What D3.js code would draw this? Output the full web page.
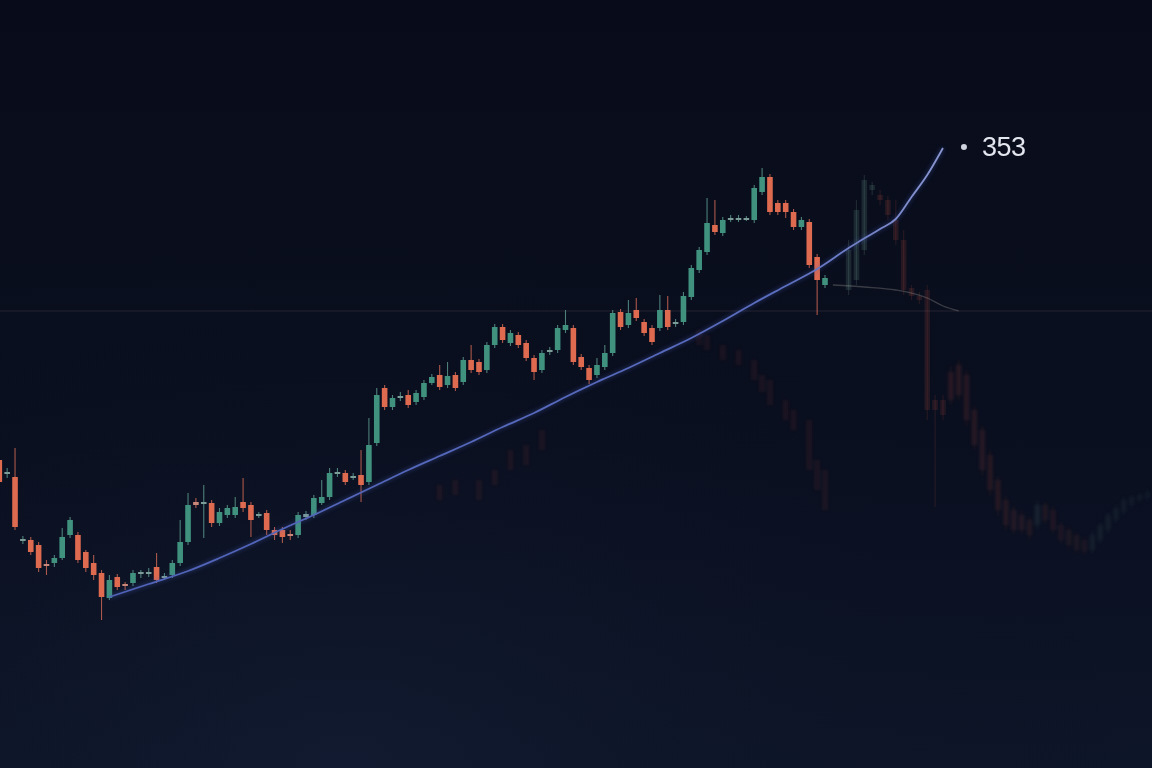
<!DOCTYPE html>
<html>
<head>
<meta charset="utf-8">
<script src="https://cdn.jsdelivr.net/npm/d3@7/dist/d3.min.js"></script>
<style>
html,body{margin:0;padding:0;background:#0a0e1c;overflow:hidden;}
svg{display:block;}
</style>
</head>
<body>
<svg id="chart" width="1152" height="768"></svg>
<script>
// ---- data (prices) ----
const openP = [197,190,188.5,156.5,157,154.5,145,145.5,148,159.5,159.5,151,145.5,140.5,128,138.5,135,135.5,140,140,143.5,138,139.5,145.5,156,176,175,175.5,165.5,169.5,169.5,176,174.5,169,170.5,162,162,160,159.5,168.5,169.5,175.5,178.5,190,190.5,188,189.5,186,205.5,233,223.5,228,229.5,226,228.5,235.5,239.5,234.5,239.5,236,247,246,242,254.5,263.5,255.5,259.5,255.5,248,242,251,252,262,263,248.5,243,239.5,243.5,250.5,271,264.5,272,266,263,263,272,265,266,278.5,292,301,314.5,310.5,317.5,317.5,317.5,317,331,338.5,325.5,325.5,321,313.5,316,298.5,284.5];
const highP = [202,193,203,159,158.5,156,147,149.5,163,168.5,161,152,149.5,142,139.5,140,136,142,142,143,150.5,140.5,147,167,180.5,178,184.5,177,173,174.5,178.5,188,176,171,172,163.5,163.5,162,171,171.5,179.5,187,193,193,192,190.5,202,218,233,234.5,229.5,231,232,232,237,240,244.5,246,241,248.5,254.5,247.5,256,265,265,262,261,257,249.5,252,253.5,264.5,272,264.5,250,244.5,248,254.5,272,272.5,277,278,267.5,264.5,279.5,279,267.5,281,294.5,303.5,328,327,318.5,319.5,319.5,319,334.5,343,340,327,327,322.5,318.5,317.5,300,289.5];
const lowP = [183,188,162,155,149.5,141,139.5,143.5,147,158,145.5,141,137,117,127,132,132,134,138,138.5,135.5,137,138,144,154.5,173,158,163.5,164,168,168,171,158.5,168,159.5,157,155.5,157,158,167,168,174.5,177,188.5,184.5,187,176,184.5,204,222,222,226.5,223,224.5,227,234.5,232,233,231.5,234.5,240.5,239.5,240.5,253,255.5,254,253,246.5,237,240.5,249.5,250.5,260.5,244.5,242,235,238,242,249,262,263,266.5,259,254.5,261.5,262,263.5,264.5,277,290.5,299.5,309.5,309,316,316,316.5,315.5,329.5,319.5,319.5,318,312,312,293,269.5,283];
const closeP = [186,191,163.5,157.5,151,143,144,148,158.5,167,147,143,139.5,128.5,137,133.5,134,140.5,141,141,137,139,145.5,156,174.5,174.5,176,165.5,171,173,173.5,173,167,170,162,159.5,158.5,159,169.5,170,178,178.5,190.5,191,186,189,184.5,204.5,229.5,223.5,228,229,224.5,230.5,235.5,238.5,233.5,239,233,247,242,241,254.5,263.5,257,260.5,254.5,248,241,250.5,252,263,264.5,246,243.5,237,244.5,250.5,270.5,263.5,270.5,268,260.5,256,272,263.5,266,279,293,302,315.5,311,317,318,318,318,333,338.5,321,321,321,313.5,317,294.5,287,288];

// moving-average line (candle index -> value)
const maIndex = [14,19,24,28,32,36,40,44,48,52,56,60,64,68,72,76,80,84,88,92,96,100,104,108,112,114,116,118,120];
const maValue = [128.5,135,141.5,148,155,162.5,169.5,177,184.5,192,199,206,213.5,220.5,228.5,236,243,250.5,258,266.5,275.5,284,292.5,303,312.5,317.5,328.5,339.5,353];

// faded "projection" candles to the right
const ghostStart = 108;
const ghostOpen  = [282,287,302,332,329.5,327,317,307,283,279,282,227,227,241,244.5,239.5,222,212,199.5,187,177,172,169.5,167,164.5,174.5,172,164.5,162,159.5,157,152,157,162,167,171,174.5,177,178];
const ghostHigh  = [307,327,339.5,336,332,329,327,312,284.5,281,284.5,229.5,229.5,244,247,242,224,214,202,189,179,174,172,169,177,176,174,166,164,161,159,162,166,171,175,179,180,181,183];
const ghostLow   = [279.5,284.5,299.5,329.5,324.5,317,304.5,279.5,277,275,217,173.5,217,224.5,227,214,202,189,179,169,162,160,160,157,162,165,160,155,152,150,149,150,155,160,165,169,172,175,176];
const ghostClose = [302,322,337,334.5,327,319.5,307,282,279,277,222,222,219.5,227,229.5,217,204.5,192,182,172,164.5,162,162,159.5,174.5,167,162,157,154.5,152,151,159.5,164.5,169.5,173,177,178.5,179.5,181];

// faint reflected candles under the main series
const shadowIndex = [56,58,61,63,65,67,69,89,90,92,94,96,97,98,100,101,103,104,105];
const shadowTop   = [184.5,187,187,192,202,204.5,212,262,259.5,254.5,252,247,239.5,237,227,222,217,197,192];
const shadowBot   = [177,179.5,177,184.5,192,194.5,202,254.5,252,247,244.5,237,231,224.5,217,212,192,182,172];

// secondary faint line and reference level
const ghostMaIndex = [106,110,114,118,120,122];
const ghostMaValue = [284.5,283.5,282,278,274,271.5];
const levelValue = 271.5;

// ---- drawing ----
const W = 1152, H = 768;
const svg = d3.select("#chart");
const x = d3.scaleLinear().domain([0, 105]).range([-0.7, 825]);
const y = d3.scaleLinear().domain([0, 427]).range([854, 0]);

const defs = svg.append("defs");
const bg = defs.append("linearGradient").attr("id","bg").attr("x1",0).attr("y1",0).attr("x2",0).attr("y2",1);
bg.append("stop").attr("offset","0%").attr("stop-color","#080c1a");
bg.append("stop").attr("offset","55%").attr("stop-color","#0a0f1f");
bg.append("stop").attr("offset","100%").attr("stop-color","#0d1528");
const rg = defs.append("radialGradient").attr("id","glow").attr("cx","30%").attr("cy","100%").attr("r","70%");
rg.append("stop").attr("offset","0%").attr("stop-color","#16213a").attr("stop-opacity",0.45);
rg.append("stop").attr("offset","100%").attr("stop-color","#0a0e1c").attr("stop-opacity",0);
const blur = defs.append("filter").attr("id","blur").attr("x","-10%").attr("y","-10%").attr("width","120%").attr("height","120%");
blur.append("feGaussianBlur").attr("stdDeviation",2.2);
const soft = defs.append("filter").attr("id","soft");
soft.append("feGaussianBlur").attr("stdDeviation",0.7);
const haze = defs.append("filter").attr("id","haze").attr("x","-5%").attr("y","-5%").attr("width","110%").attr("height","110%");
haze.append("feGaussianBlur").attr("stdDeviation",1.6);
const crisp = defs.append("filter").attr("id","crisp");
crisp.append("feGaussianBlur").attr("stdDeviation",0.3);

svg.append("rect").attr("width",W).attr("height",H).attr("fill","url(#bg)");
svg.append("rect").attr("width",W).attr("height",H).attr("fill","url(#glow)");

// reference level
svg.append("line")
  .attr("x1",0).attr("x2",W)
  .attr("y1",y(levelValue)).attr("y2",y(levelValue))
  .attr("stroke","#5a4a55").attr("stroke-opacity",0.35).attr("stroke-width",1);

const GREEN = "#3f927f", RED = "#de6a50";
const bw = 5.6;

// shadow / reflection candles
const shadow = shadowIndex.map((d,i)=>({i:d, t:shadowTop[i], b:shadowBot[i]}));
svg.append("g").attr("filter","url(#haze)").selectAll("rect").data(shadow).join("rect")
  .attr("x", d=>x(d.i)-bw/2).attr("width",bw)
  .attr("y", d=>y(d.t)).attr("height", d=>Math.max(1,y(d.b)-y(d.t)))
  .attr("fill","#8a3a34").attr("opacity",0.14);

// ghost candles
const ghost = ghostOpen.map((o,k)=>({i:ghostStart+k,o,h:ghostHigh[k],l:ghostLow[k],c:ghostClose[k]}));
const gOp = d3.scaleLinear().domain([ghostStart, ghostStart+12, ghostStart+38]).range([0.22,0.17,0.06]);
function drawGhost(list, filter){
  const gg = svg.append("g").attr("filter",filter);
  gg.selectAll("line").data(list).join("line")
    .attr("x1",d=>x(d.i)).attr("x2",d=>x(d.i))
    .attr("y1",d=>y(d.h)).attr("y2",d=>y(d.l))
    .attr("stroke",d=>d.c>=d.o?"#6f8f88":"#a0443a").attr("stroke-width",1.2)
    .attr("opacity",d=>gOp(d.i));
  gg.selectAll("rect").data(list).join("rect")
    .attr("x",d=>x(d.i)-bw/2).attr("width",bw)
    .attr("y",d=>y(Math.max(d.o,d.c))).attr("height",d=>Math.max(1.5,Math.abs(y(d.o)-y(d.c))))
    .attr("fill",d=>d.c>=d.o?"#5d8a80":"#a0443a")
    .attr("opacity",d=>gOp(d.i));
}
drawGhost(ghost.filter(d=>d.i<=ghostStart+12), "url(#soft)");
drawGhost(ghost.filter(d=>d.i>ghostStart+12), "url(#haze)");

// ghost ma line
svg.append("path")
  .datum(ghostMaIndex.map((d,i)=>[d,ghostMaValue[i]]))
  .attr("d", d3.line().x(d=>x(d[0])).y(d=>y(d[1])).curve(d3.curveMonotoneX))
  .attr("fill","none").attr("stroke","#b8b4a8").attr("stroke-opacity",0.28).attr("stroke-width",1.3);

// main candles
const candles = openP.map((o,i)=>({i,o,h:highP[i],l:lowP[i],c:closeP[i]}));
const cg = svg.append("g").attr("filter","url(#crisp)");
cg.selectAll("line").data(candles).join("line")
  .attr("x1",d=>x(d.i)).attr("x2",d=>x(d.i))
  .attr("y1",d=>y(d.h)).attr("y2",d=>y(d.l))
  .attr("stroke",d=>d.c>=d.o?"#5e9c90":"#d46a55").attr("stroke-width",1.1).attr("opacity",0.8);
cg.selectAll("rect").data(candles).join("rect")
  .attr("x",d=>x(d.i)-bw/2).attr("width",bw)
  .attr("y",d=>y(Math.max(d.o,d.c))).attr("height",d=>Math.max(2,Math.abs(y(d.o)-y(d.c))))
  .attr("fill",d=>{
    const small = Math.abs(d.o-d.c) < 1.6;
    if (small) return d.c>=d.o ? "#7b9c98" : "#c9877a";
    return d.c>=d.o ? GREEN : RED;
  });

// moving average line with glow
const maPts = maIndex.map((d,i)=>[d,maValue[i]]);
const maLine = d3.line().x(d=>x(d[0])).y(d=>y(d[1])).curve(d3.curveMonotoneX);
svg.append("path").datum(maPts).attr("d",maLine)
  .attr("fill","none").attr("stroke","#4c63c8").attr("stroke-width",4).attr("opacity",0.28).attr("filter","url(#blur)");
const lg = defs.append("linearGradient").attr("id","maGrad").attr("gradientUnits","userSpaceOnUse")
  .attr("x1",x(maIndex[0])).attr("x2",x(maIndex[maIndex.length-1])).attr("y1",0).attr("y2",0);
lg.append("stop").attr("offset","0%").attr("stop-color","#5063b8");
lg.append("stop").attr("offset","80%").attr("stop-color","#5a6cbe");
lg.append("stop").attr("offset","100%").attr("stop-color","#8a96d0");
svg.append("path").datum(maPts).attr("d",maLine)
  .attr("fill","none").attr("stroke","url(#maGrad)").attr("stroke-width",1.8);

// end label
const lastI = maIndex[maIndex.length-1], lastV = maValue[maValue.length-1];
svg.append("circle").attr("cx",x(lastI)+21).attr("cy",y(lastV)-1).attr("r",3).attr("fill","#cfd3de");
svg.append("text").attr("x",x(lastI)+39).attr("y",y(lastV)-1)
  .attr("dominant-baseline","central")
  .attr("font-family","'Liberation Sans', Arial, sans-serif")
  .attr("font-size",27).attr("letter-spacing",-0.5)
  .attr("fill","#e3e6ee")
  .text(d3.format("d")(lastV));
</script>
</body>
</html>
